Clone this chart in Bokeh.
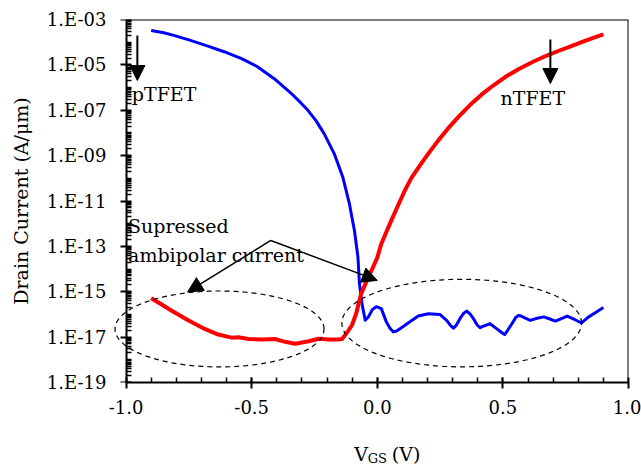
import numpy as np
from bokeh.plotting import figure
from bokeh.layouts import column
from bokeh.models import (Range1d, FixedTicker, Arrow, NormalHead, Label,
                          PolyAnnotation, PrintfTickFormatter, LogAxis)
from bokeh.core.properties import value
from bokeh.embed import file_html
from bokeh.resources import INLINE

# ---------------- data ----------------
vgs_p = [-0.90, -0.85, -0.81, -0.75, -0.68, -0.61, -0.54, -0.48, -0.41, -0.344,
         -0.304, -0.277, -0.244, -0.211, -0.171, -0.137, -0.111, -0.091, -0.077, -0.071,
         -0.061, -0.048, -0.035, -0.020, -0.004, 0.016, 0.036, 0.050, 0.063, 0.075,
         0.089, 0.123, 0.163, 0.203, 0.249, 0.276, 0.292, 0.303, 0.315, 0.329,
         0.343, 0.356, 0.369, 0.383, 0.397, 0.409, 0.420, 0.449, 0.476, 0.495,
         0.507, 0.519, 0.536, 0.552, 0.563, 0.574, 0.587, 0.609, 0.636, 0.663,
         0.687, 0.709, 0.733, 0.756, 0.785, 0.813, 0.840, 0.863, 0.900]
id_p = [3.3e-4, 2.6e-4, 2.0e-4, 1.26e-4, 7.1e-5, 3.8e-5, 1.9e-5, 8.7e-6, 2.45e-6, 5.75e-7,
        2.1e-7, 1.02e-7, 3.5e-8, 9.1e-9, 1.2e-9, 1.1e-10, 7.6e-12, 5.0e-13, 3.4e-14, 2.3e-15,
        3.0e-16, 5.5e-17, 7.9e-17, 1.6e-16, 2.2e-16, 1.8e-16, 4.7e-17, 2.5e-17, 1.7e-17, 1.8e-17,
        2.3e-17, 4.2e-17, 8.5e-17, 1.07e-16, 1.0e-16, 5.5e-17, 3.2e-17, 2.5e-17, 3.4e-17, 6.5e-17,
        1.1e-16, 1.4e-16, 1.05e-16, 6.5e-17, 3.5e-17, 2.6e-17, 3.0e-17, 3.9e-17, 2.3e-17, 1.6e-17,
        1.3e-17, 2.0e-17, 3.9e-17, 7.6e-17, 9.1e-17, 8.3e-17, 7.0e-17, 5.5e-17, 6.8e-17, 7.8e-17,
        6.3e-17, 5.1e-17, 6.6e-17, 8.5e-17, 6.0e-17, 4.2e-17, 7.6e-17, 1.1e-16, 2.0e-16]

vgs_n = [-0.90, -0.86, -0.82, -0.753, -0.687, -0.633, -0.580, -0.553, -0.513, -0.460,
         -0.407, -0.367, -0.327, -0.273, -0.233, -0.193, -0.157, -0.140, -0.117, -0.100,
         -0.084, -0.064, -0.037, -0.017, 0.000, 0.016, 0.056, 0.083, 0.109, 0.136, 0.176,
         0.210, 0.243, 0.280, 0.323, 0.370, 0.416, 0.460, 0.509, 0.560, 0.616, 0.670, 0.723,
         0.770, 0.816, 0.860, 0.900]
id_n = [5.2e-16, 2.8e-16, 1.5e-16, 5.5e-17, 2.3e-17, 1.3e-17, 9.5e-18, 9.8e-18, 8.3e-18, 7.8e-18,
        8.3e-18, 6.2e-18, 5.1e-18, 6.6e-18, 8.5e-18, 7.9e-18, 7.8e-18, 8.3e-18, 1.8e-17, 3.5e-17,
        1.1e-16, 8.3e-16, 4.0e-15, 1.2e-14, 3.2e-14, 1.3e-13, 1.4e-12, 6.5e-12, 2.8e-11, 1.05e-10, 4.7e-10,
        1.55e-9, 4.7e-9, 1.5e-8, 5.1e-8, 1.74e-7, 5.0e-7, 1.2e-6, 2.9e-6, 6.3e-6, 1.3e-5, 2.45e-5, 4.2e-5,
        6.6e-5, 1.02e-4, 1.55e-4, 2.2e-4]

x_ticks = [-1.0, -0.5, 0.0, 0.5, 1.0]
y_ticks = [1e-19, 1e-17, 1e-15, 1e-13, 1e-11, 1e-9, 1e-7, 1e-5, 1e-3]
y_tick_labels = ["1.E-19", "1.E-17", "1.E-15", "1.E-13", "1.E-11",
                 "1.E-09", "1.E-07", "1.E-05", "1.E-03"]

X_MIN, X_MAX = -1.0, 1.0
Y_MIN, Y_MAX = 1e-19, 1e-3
FONT = "DejaVu Serif"

xr = Range1d(-1.05, X_MAX)
p = figure(width=641, height=430, y_axis_type="log",
           x_range=xr, y_range=Range1d(Y_MIN, Y_MAX),
           output_backend="svg", toolbar_location=None,
           min_border_left=113, min_border_right=13,
           min_border_top=19, min_border_bottom=48)
p.grid.visible = False
p.outline_line_color = None
p.background_fill_color = "white"
p.border_fill_color = "white"

minor_y = []
for e in range(-19, -3):
    for k in range(1, 10):
        v = k * 10.0 ** e
        if not (k == 1 and e % 2 == 1):
            minor_y.append(v)

# x axis
xa = p.xaxis[0]
xa.ticker = FixedTicker(ticks=x_ticks,
                        minor_ticks=[round(-0.9 + 0.1 * i, 1) for i in range(19)])
xa.formatter = PrintfTickFormatter(format="%.1f")
xa.bounds = (X_MIN, X_MAX)
xa.axis_line_width = 2
xa.major_tick_line_width = 2
xa.minor_tick_line_width = 1.5
xa.major_tick_in = 5
xa.major_tick_out = 6
xa.minor_tick_in = 5
xa.minor_tick_out = 0
xa.major_label_standoff = 11

# y axis used for the tick labels and the title (at frame edge, no line)
ya = p.yaxis[0]
ya.ticker = FixedTicker(ticks=y_ticks)
ya.major_label_overrides = dict(zip(y_ticks, y_tick_labels))
ya.axis_label = "Drain Current (A/μm)"
ya.axis_line_color = None
ya.major_tick_line_color = None
ya.minor_tick_line_color = None
ya.major_tick_in = 0
ya.major_tick_out = 0
ya.minor_tick_in = 0
ya.minor_tick_out = 0
ya.major_label_standoff = 7
ya.axis_label_standoff = 12

for ax in (xa, ya):
    ax.major_label_text_font = FONT
    ax.major_label_text_font_size = "18px"
    ax.major_label_text_color = "black"
    ax.axis_label_text_font = FONT
    ax.axis_label_text_font_size = "19px"
    ax.axis_label_text_font_style = "normal"
    ax.axis_label_text_color = "black"

# y axis line + ticks placed at V = -1.0
yline = LogAxis(fixed_location=X_MIN,
                ticker=FixedTicker(ticks=y_ticks, minor_ticks=minor_y),
                axis_line_width=2, axis_line_color="black",
                major_tick_line_width=2, minor_tick_line_width=1.5,
                major_tick_in=5, major_tick_out=6, minor_tick_in=5, minor_tick_out=0,
                major_label_text_font_size="0px", major_label_standoff=0,
                major_label_text_color=None)
p.add_layout(yline, "left")

# thin frame lines on top and right
p.line([X_MIN, X_MAX], [Y_MAX, Y_MAX], line_color="black", line_width=2)
p.line([X_MAX, X_MAX], [Y_MIN, Y_MAX], line_color="black", line_width=2)

# curves
p.line(vgs_p, id_p, line_color="#0000FF", line_width=3, line_join="round")
p.line(vgs_n, id_n, line_color="#FF0000", line_width=4, line_join="round")

# dashed ellipses (annotations)
t = np.linspace(0, 2 * np.pi, 121)
for cx, cl, axx, ayl in [(-0.628, -16.64, 0.416, 1.674), (0.336, -16.38, 0.477, 1.93)]:
    ex = cx + axx * np.cos(t)
    ey = 10 ** (cl + ayl * np.sin(t))
    p.add_layout(PolyAnnotation(xs=list(ex), ys=list(ey), fill_alpha=0,
                                line_color="black", line_alpha=1.0,
                                line_width=1.2, line_dash="5 4"))

# arrows
def arrow(x0, l0, x1, l1, w=1.5):
    p.add_layout(Arrow(end=NormalHead(size=15, fill_color="black", line_color="black"),
                       x_start=x0, y_start=10 ** l0, x_end=x1, y_end=10 ** l1,
                       line_color="black", line_width=w))

arrow(-0.955, -3.70, -0.955, -5.69, 2)
arrow(0.689, -3.88, 0.689, -5.82, 2)
arrow(-0.424, -12.74, -0.755, -15.01)
arrow(-0.424, -12.74, 0.0, -14.50)

def label(x, l, text, size="19px", align="left"):
    p.add_layout(Label(x=x, y=10 ** l, text=text, text_font=FONT,
                       text_font_size=size, text_align=align,
                       text_baseline="middle", text_color="black"))

label(-0.977, -6.30, "pTFET")
label(0.619, -6.48, "nTFET", align="center")
label(-0.992, -12.10, "Supressed")
label(-0.992, -13.40, "ambipolar current")

# x-axis title (V with subscript GS) in a strip below
p2 = figure(width=641, height=38, x_range=xr, y_range=Range1d(0, 38),
            output_backend="svg", toolbar_location=None,
            x_axis_location=None, y_axis_location=None,
            min_border_left=113, min_border_right=13,
            min_border_top=0, min_border_bottom=0)
p2.grid.visible = False
p2.outline_line_color = None
p2.background_fill_color = "white"
p2.border_fill_color = "white"
p2.text(x=[-0.092], y=[15], text=["V"], text_font=value(FONT),
        text_font_size="19px", text_baseline="middle", text_align="left", text_color="black")
p2.text(x=[-0.038], y=[10], text=["GS"], text_font=value(FONT),
        text_font_size="13px", text_baseline="middle", text_align="left", text_color="black")
p2.text(x=[0.058], y=[15], text=["(V)"], text_font=value(FONT),
        text_font_size="19px", text_baseline="middle", text_align="left", text_color="black")

layout = column(p, p2, spacing=0)
open("out.html", "w").write(file_html(layout, INLINE))
